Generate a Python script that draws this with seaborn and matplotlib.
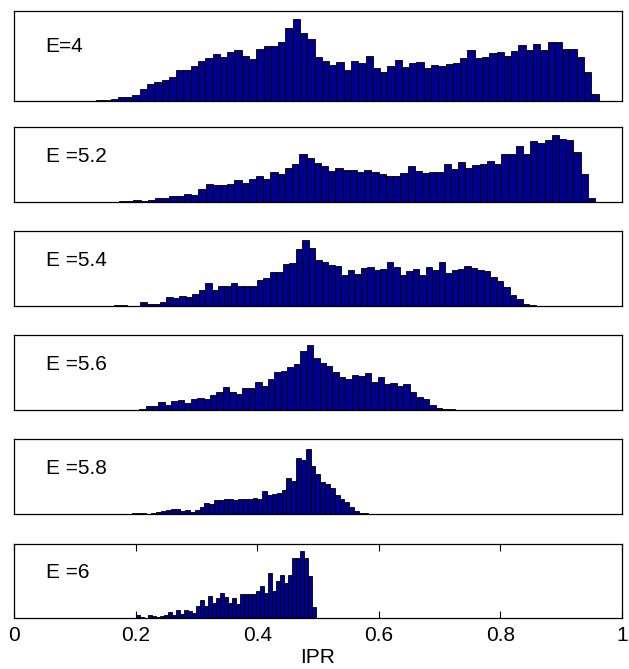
import numpy as np
import pandas as pd
import matplotlib
matplotlib.use("Agg")
import matplotlib.pyplot as plt
import seaborn as sns

# 每个面板的标签
labels = ["E=4", "E =5.2", "E =5.4", "E =5.6", "E =5.8", "E =6"]

# 直方图范围 (IPR 起点, 终点) 和每个 bin 的高度 (从图上读出的相对高度)
ranges = [(0.063, 0.9615), (0.1727, 0.9558), (0.1648, 0.8583),
          (0.1846, 0.7251), (0.194, 0.583), (0.200, 0.497)]

counts_e4 = [1, 1, 1, 1, 1, 1,
             2, 3, 6, 11, 11, 17, 36, 51, 59, 65,
             74, 93, 94, 107, 120, 130, 143, 132, 149, 155,
             136, 126, 158, 168, 168, 179, 222, 249, 205, 188,
             133, 122, 109, 119, 94, 122, 114, 136, 100, 87,
             105, 123, 102, 116, 117, 100, 108, 105, 112, 114,
             130, 155, 129, 133, 147, 150, 138, 153, 170, 156,
             173, 154, 179, 178, 159, 159, 134, 87, 20]
counts_e52 = [3, 3, 6, 3, 7, 13, 13, 18, 17, 24,
              21, 38, 53, 51, 51, 55, 66, 57, 69, 78,
              68, 89, 85, 102, 113, 145, 131, 117, 109, 93,
              103, 97, 95, 89, 95, 91, 83, 79, 77, 87,
              109, 92, 87, 90, 90, 113, 100, 119, 102, 110,
              113, 124, 115, 145, 144, 167, 145, 182, 178, 186,
              201, 188, 186, 149, 83, 13]
counts_e54 = [2, 4, 0, 0, 11, 7, 7, 11, 26, 24,
              29, 26, 37, 47, 68, 48, 59, 61, 68, 60,
              61, 61, 77, 85, 102, 102, 124, 128, 169, 197,
              172, 137, 132, 122, 118, 92, 107, 97, 114, 115,
              109, 110, 132, 117, 94, 105, 112, 92, 115, 107,
              131, 99, 107, 110, 119, 114, 109, 104, 86, 76,
              56, 33, 20, 7, 4]
counts_e56 = [1, 1, 2, 12, 12, 24, 15, 26, 30, 20,
              32, 35, 34, 44, 55, 70, 54, 48, 65, 66,
              83, 72, 92, 115, 117, 130, 138, 177, 195,
              155, 142, 132, 115, 98, 92, 105, 102, 110, 85,
              100, 78, 82, 72, 77, 54, 40, 32, 15, 7, 4, 3]
counts_e58 = [2, 2, 2, 0, 3, 5, 9, 13, 15,
              14, 9, 12, 6, 13, 20, 32, 31, 43, 43,
              46, 44, 41, 44, 46, 44, 48, 46, 70, 58,
              59, 63, 72, 108, 98, 168, 161, 196, 145, 120,
              96, 91, 78, 58, 45, 36, 22, 10, 2, 4]
counts_e6 = [10, 2, 0, 9, 5, 2, 5, 8, 18, 10,
             23, 12, 23, 20, 15, 35, 55, 35, 67, 45,
             60, 75, 62, 45, 60, 42, 72, 72, 72, 72,
             82, 95, 75, 135, 82, 110, 128, 105, 128, 180,
             180, 202, 180, 125, 32]
all_counts = [counts_e4, counts_e52, counts_e54, counts_e56, counts_e58, counts_e6]

# 每个面板的 y 轴上限 (与高度同单位)
ytops = [273, 225, 224, 225, 225, 222]

sns.set_style("white")
plt.rcParams['font.family'] = ['Liberation Sans', 'DejaVu Sans']
plt.rcParams['text.color'] = 'black'
plt.rcParams['axes.labelcolor'] = 'black'
plt.rcParams['xtick.color'] = 'black'

W, H = 629, 669
fig = plt.figure(figsize=(W / 100, H / 100), dpi=100)

# 面板像素位置 (上, 下)
panel_px = [(11, 101), (127, 202), (231, 306), (335, 410), (439, 514), (544, 618)]
left_px, right_px = 14, 622

for i, (lab, (lo, hi), cnt, ytop) in enumerate(zip(labels, ranges, all_counts, ytops)):
    top, bot = panel_px[i]
    ax = fig.add_axes([left_px / W, 1 - bot / H, (right_px - left_px) / W, (bot - top) / H])
    edges = np.linspace(lo, hi, len(cnt) + 1)
    centers = (edges[:-1] + edges[1:]) / 2
    df = pd.DataFrame({'IPR': centers, 'count': cnt})
    sns.histplot(data=df, x='IPR', weights='count', bins=edges.tolist(), ax=ax,
                 color='#00008F', edgecolor='black', linewidth=0.6, alpha=1)
    ax.set_xlim(0, 1)
    ax.set_ylim(0, ytop)
    ax.set_ylabel('')
    ax.set_yticks([])
    for sp in ax.spines.values():
        sp.set_color('black')
        sp.set_linewidth(0.9)
    ax.text(0.052, 0.61, lab, transform=ax.transAxes, fontsize=15, va='center', ha='left',
            color='black')
    if i < len(labels) - 1:
        ax.set_xticks([])
        ax.set_xlabel('')
    else:
        ax.set_xticks([0, 0.2, 0.4, 0.6, 0.8, 1])
        ax.set_xticklabels(['0', '0.2', '0.4', '0.6', '0.8', '1'])
        ax.tick_params(axis='x', direction='in', top=True, bottom=True, length=5,
                       width=0.8, labelsize=15, pad=6, colors='black')
        ax.set_xlabel('IPR', fontsize=15, labelpad=2, color='black')

fig.savefig('out.png', dpi=100)
